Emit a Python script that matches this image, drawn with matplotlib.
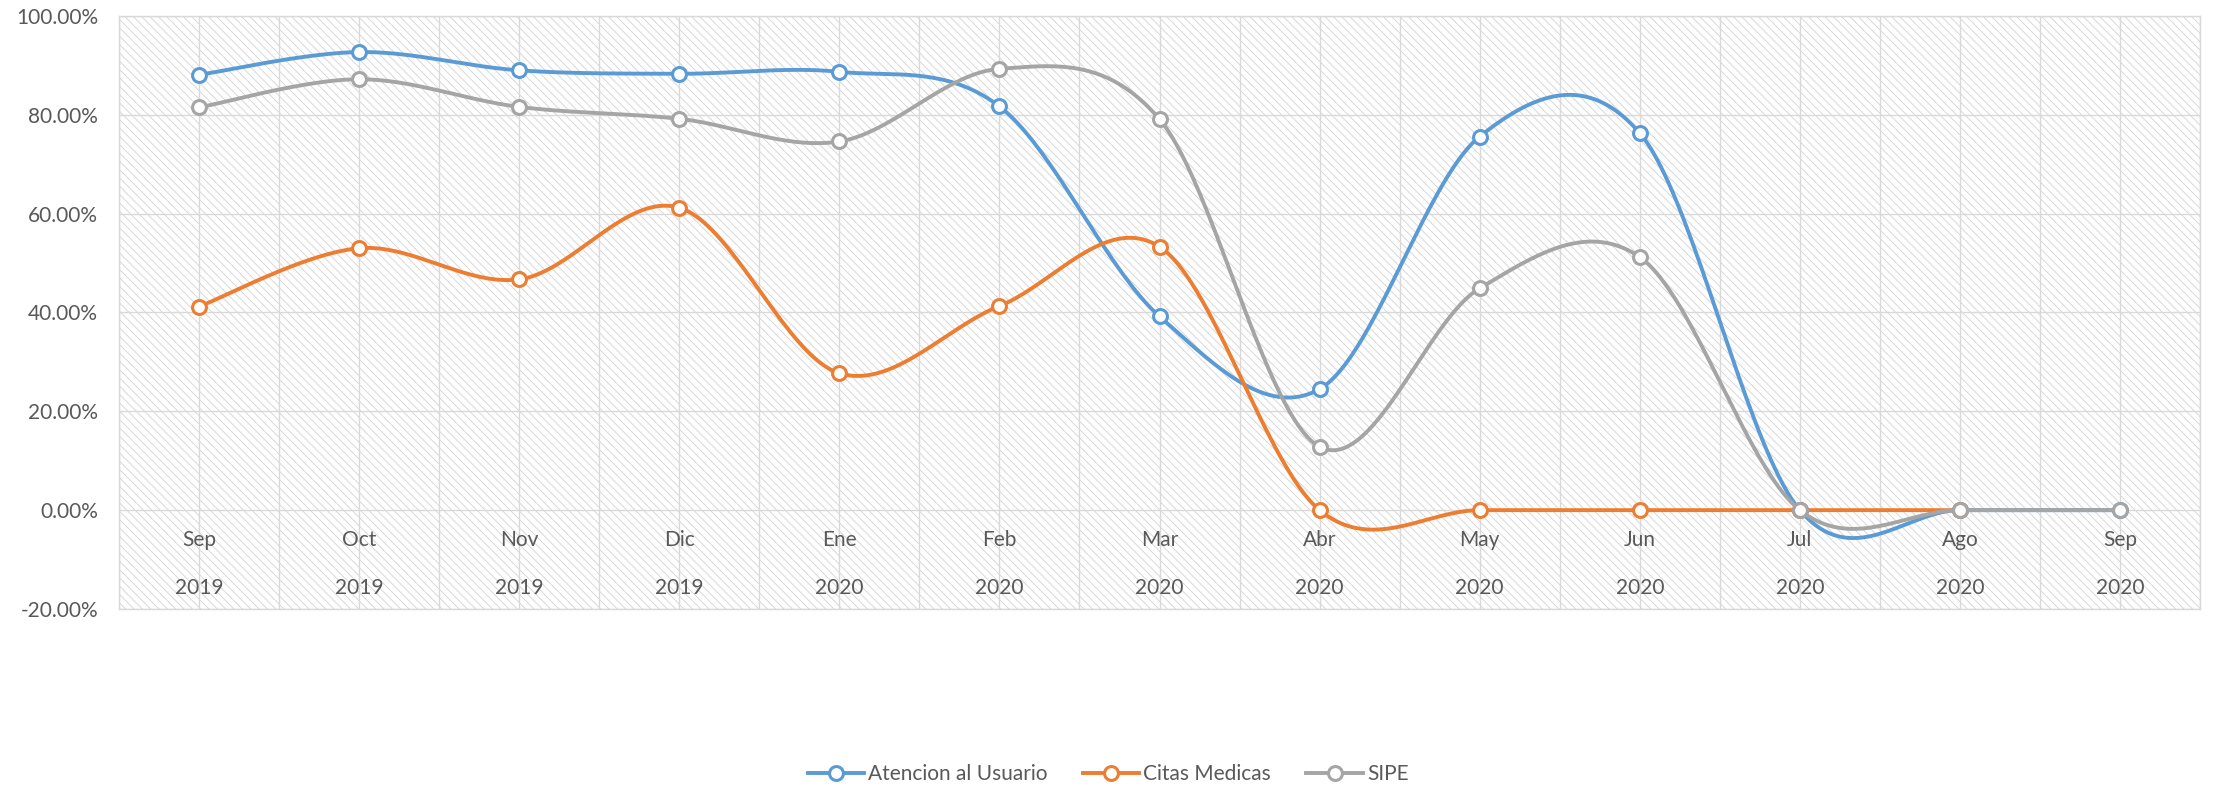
import matplotlib
matplotlib.use("Agg")
import matplotlib.pyplot as plt
from matplotlib.lines import Line2D
from matplotlib.patches import Rectangle
import numpy as np

plt.rcParams["font.family"] = ["Lato", "DejaVu Sans"]
plt.rcParams["hatch.linewidth"] = 0.6

months = ["Sep", "Oct", "Nov", "Dic", "Ene", "Feb", "Mar", "Abr", "May", "Jun", "Jul", "Ago", "Sep"]
years = ["2019", "2019", "2019", "2019", "2020", "2020", "2020", "2020", "2020", "2020", "2020", "2020", "2020"]

atencion = [0.881, 0.927, 0.890, 0.883, 0.887, 0.817, 0.392, 0.245, 0.756, 0.763, 0.0, 0.0, 0.0]
citas = [0.412, 0.530, 0.467, 0.612, 0.277, 0.413, 0.533, 0.0, 0.0, 0.0, 0.0, 0.0, np.nan]
sipe = [0.815, 0.872, 0.816, 0.792, 0.746, 0.893, 0.791, 0.128, 0.449, 0.512, 0.0, 0.0, 0.0]

series = [
    ("Atencion al Usuario", atencion, "#5B9BD5"),
    ("Citas Medicas", citas, "#ED7D31"),
    ("SIPE", sipe, "#A5A5A5"),
]

TEXT = "#595959"
GRID = "#d9d9d9"
FS = 15


def smooth(x, y, n=40):
    # catmull-rom style bezier, roughly what excel does for "smoothed line"
    pts = np.column_stack([x, y])
    out = []
    for i in range(len(pts) - 1):
        p0 = pts[i - 1] if i > 0 else pts[i]
        p1 = pts[i]
        p2 = pts[i + 1]
        p3 = pts[i + 2] if i + 2 < len(pts) else pts[i + 1]
        c1 = p1 + (p2 - p0) / 6
        c2 = p2 - (p3 - p1) / 6
        t = np.linspace(0, 1, n)[:, None]
        seg = ((1 - t) ** 3) * p1 + 3 * ((1 - t) ** 2) * t * c1 + 3 * (1 - t) * t ** 2 * c2 + t ** 3 * p2
        out.append(seg if i == 0 else seg[1:])
    out = np.vstack(out)
    return out[:, 0], out[:, 1]


fig = plt.figure(figsize=(22.16, 7.87), dpi=100)
ax = fig.add_axes([0.0537, 0.2262, 0.9391, 0.7535])

# hatched plot area
ax.add_patch(Rectangle((0, 0), 1, 1, transform=ax.transAxes, facecolor="white",
                       edgecolor="#d2d2d2", hatch="\\\\\\\\", linewidth=0, zorder=0))

x = np.arange(len(months))
for name, vals, color in series:
    v = np.array(vals, dtype=float)
    ok = ~np.isnan(v)
    sx, sy = smooth(x[ok], v[ok])
    ax.plot(sx, sy, color=color, lw=2.8, solid_capstyle="round", zorder=3)
    ax.plot(x[ok], v[ok], "o", ms=10, mfc="white", mec=color, mew=2.2, zorder=3)

ax.set_xlim(-0.5, len(months) - 0.5)
ax.set_ylim(-0.2, 1.0)
ax.set_yticks(np.arange(-0.2, 1.01, 0.2))
ax.set_yticklabels([f"{t * 100:.2f}%" for t in np.arange(-0.2, 1.01, 0.2)])
ax.set_xticks(x)
ax.set_xticks(np.arange(-0.5, len(months), 1.0), minor=True)
ax.set_xticklabels([])
ax.tick_params(axis="both", which="both", length=0, labelsize=FS, colors=TEXT, pad=15)
ax.grid(True, which="major", color=GRID, lw=1.0, zorder=1)
ax.grid(True, which="minor", axis="x", color=GRID, lw=1.0, zorder=1)
ax.set_axisbelow(True)
for s in ax.spines.values():
    s.set_color(GRID)
    s.set_linewidth(1.0)

# two-level category labels inside the plot area
for i in x:
    ax.text(i, -0.061, months[i], ha="center", va="center", fontsize=FS, color=TEXT, zorder=2)
    ax.text(i, -0.158, years[i], ha="center", va="center", fontsize=FS, color=TEXT, zorder=2)

handles = [Line2D([], [], color=c, lw=2.8, marker="o", ms=10, mfc="white", mec=c, mew=2.2)
           for _, _, c in series]
fig.legend(handles, [n for n, _, _ in series], loc="center", bbox_to_anchor=(0.5, 0.016),
           ncol=3, frameon=False, fontsize=FS, labelcolor=TEXT, handlelength=2.7,
           handletextpad=0.2, columnspacing=1.7)

fig.savefig("out.png", dpi=100)
